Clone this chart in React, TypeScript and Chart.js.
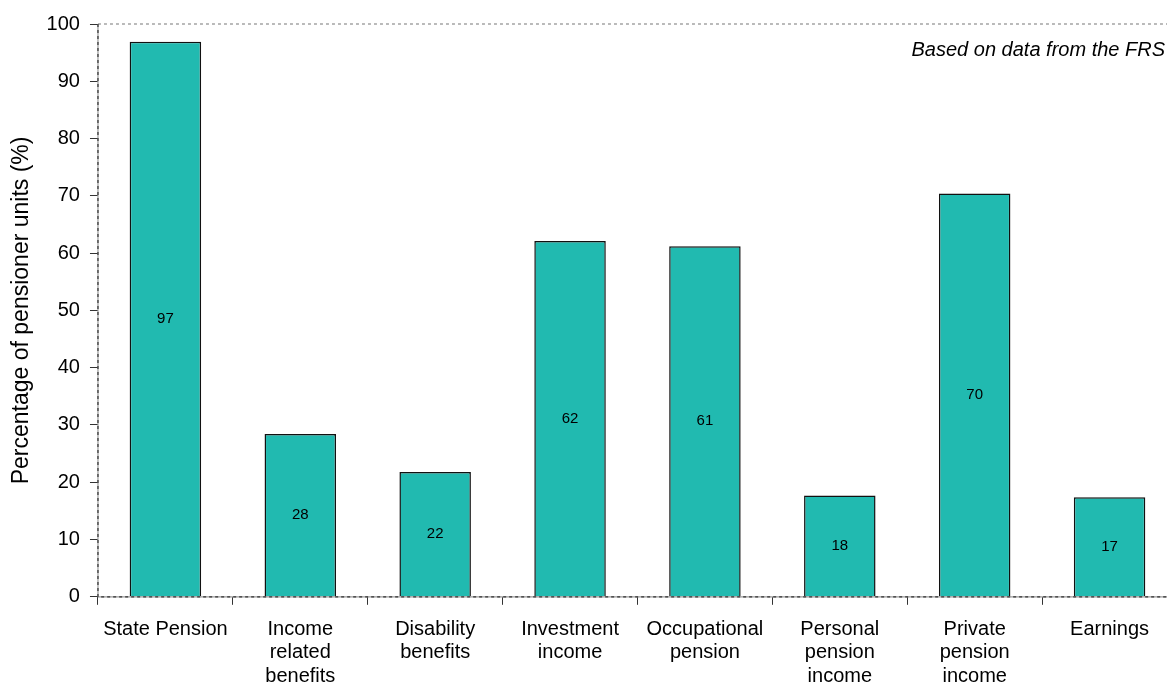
import React, { useRef, useEffect } from 'react';
import Chart from 'chart.js/auto';

const categories: string[][] = [
  ['State Pension'],
  ['Income', 'related', 'benefits'],
  ['Disability', 'benefits'],
  ['Investment', 'income'],
  ['Occupational', 'pension'],
  ['Personal', 'pension', 'income'],
  ['Private', 'pension', 'income'],
  ['Earnings'],
];
const shares: number[] = [96.9, 28.4, 21.8, 62.1, 61.2, 17.7, 70.4, 17.4];
const yTicks: number[] = [0, 10, 20, 30, 40, 50, 60, 70, 80, 90, 100];
const sourceNote = 'Based on data from the FRS';
const yTitle = 'Percentage of pensioner units (%)';

const FONT = '"Liberation Sans", Arial, sans-serif';

// value labels in the middle of each bar + the source note + dashed frame lines
const extras = {
  id: 'extras',
  afterDatasetsDraw(chart: any) {
    const { ctx, chartArea } = chart;
    ctx.save();
    // top dashed line
    ctx.strokeStyle = '#777';
    ctx.lineWidth = 1.2;
    ctx.setLineDash([3, 3]);
    ctx.beginPath();
    ctx.moveTo(chartArea.left, chartArea.top);
    ctx.lineTo(chartArea.right, chartArea.top);
    ctx.stroke();
    // left and bottom axis lines
    ctx.setLineDash([]);
    ctx.strokeStyle = '#9a9a9a';
    ctx.beginPath();
    ctx.moveTo(chartArea.left, chartArea.top);
    ctx.lineTo(chartArea.left, chartArea.bottom);
    ctx.lineTo(chartArea.right, chartArea.bottom);
    ctx.stroke();
    ctx.setLineDash([3, 3]);
    ctx.strokeStyle = '#333';
    ctx.beginPath();
    ctx.moveTo(chartArea.left, chartArea.top);
    ctx.lineTo(chartArea.left, chartArea.bottom);
    ctx.lineTo(chartArea.right, chartArea.bottom);
    ctx.stroke();
    ctx.setLineDash([]);

    ctx.fillStyle = '#000';
    ctx.font = '15px ' + FONT;
    ctx.textAlign = 'center';
    ctx.textBaseline = 'middle';
    const meta = chart.getDatasetMeta(0);
    meta.data.forEach((bar: any, i: number) => {
      const v = chart.data.datasets[0].data[i];
      ctx.fillText(String(Math.round(v)), bar.x, (bar.y + bar.base) / 2);
    });

    ctx.font = 'italic 20px ' + FONT;
    ctx.textAlign = 'right';
    ctx.fillText(sourceNote, chart.width - 15, chartArea.top + 26);
    ctx.restore();
  },
};

const PensionChart = () => {
  const chartRef = useRef<any>(null);
  const canvasRef = useRef<any>(null);

  useEffect(() => {
    if (chartRef.current) {
      chartRef.current.destroy();
    }
    const ctx = canvasRef.current.getContext('2d');
    chartRef.current = new Chart(ctx, {
      type: 'bar',
      data: {
        labels: categories,
        datasets: [
          {
            data: shares,
            backgroundColor: '#21BAB0',
            borderColor: '#111',
            borderWidth: 1.5,
            barPercentage: 0.53,
            categoryPercentage: 1,
          },
        ],
      },
      options: {
        responsive: true,
        maintainAspectRatio: false,
        animation: false,
        layout: { padding: { top: 24, left: 4, right: 3, bottom: 0 } },
        plugins: {
          legend: { display: false },
          tooltip: { enabled: false },
        },
        scales: {
          x: {
            offset: true,
            border: { display: false },
            grid: {
              offset: true,
              drawOnChartArea: false,
              drawTicks: true,
              tickLength: 8,
              tickColor: '#333',
            },
            ticks: {
              color: '#000',
              font: { family: FONT, size: 20, lineHeight: 1.17 },
              padding: 13,
              autoSkip: false,
              maxRotation: 0,
              minRotation: 0,
            },
          },
          y: {
            min: 0,
            max: 100,
            afterBuildTicks: (scale: any) => {
              scale.ticks = yTicks.map((v) => ({ value: v }));
            },
            border: { display: false },
            grid: {
              drawOnChartArea: false,
              drawTicks: true,
              tickLength: 8,
              tickColor: '#333',
            },
            ticks: {
              color: '#000',
              font: { family: FONT, size: 20 },
              padding: 10,
            },
            title: {
              display: true,
              text: yTitle,
              color: '#000',
              font: { family: FONT, size: 23 },
              padding: { top: 4, bottom: 1 },
            },
          },
        },
      },
      plugins: [extras],
    });

    return () => {
      chartRef.current.destroy();
    };
  }, []);

  return (
    <div style={{ position: 'absolute', left: 0, top: 0, width: 1167, height: 684, overflow: 'hidden', background: '#fff' }}>
      <div style={{ position: 'relative', width: 1180, height: 701 }}>
        <canvas ref={canvasRef}></canvas>
      </div>
    </div>
  );
};

export default function App() {
  return <PensionChart />;
}
